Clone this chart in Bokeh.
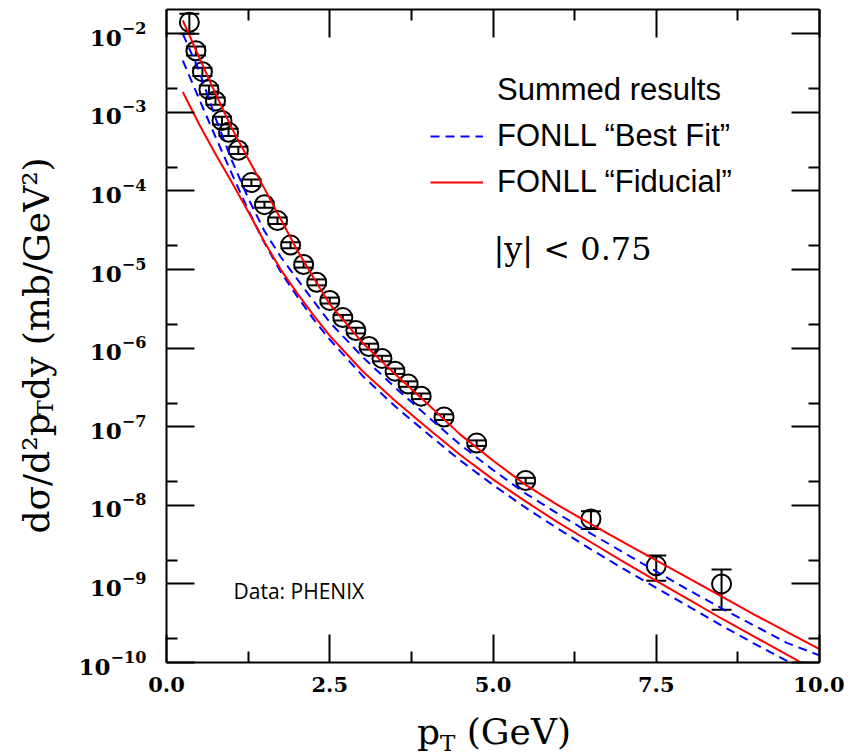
import numpy as np
from bokeh.plotting import figure
from bokeh.layouts import row, column
from bokeh.models import (Range1d, FixedTicker, LogAxis, LinearAxis, LogTickFormatter,
                          PrintfTickFormatter, CustomJSTickFormatter, Whisker,
                          ColumnDataSource, Label, Legend, LegendItem)
from bokeh.embed import file_html
from bokeh.resources import INLINE

# ---- data ----
pt = [0.35, 0.45, 0.55, 0.65, 0.75, 0.85, 0.95, 1.1, 1.3, 1.5, 1.7, 1.9, 2.1, 2.3,
      2.5, 2.7, 2.9, 3.1, 3.3, 3.5, 3.7, 3.9, 4.25, 4.75, 5.5, 6.5, 7.5, 8.5]
dsig = [1.40e-2, 6.1e-3, 3.3e-3, 1.95e-3, 1.40e-3, 7.9e-4, 5.6e-4, 3.3e-4, 1.28e-4,
        6.7e-5, 4.2e-5, 2.05e-5, 1.16e-5, 6.9e-6, 4.05e-6, 2.45e-6, 1.68e-6, 1.05e-6,
        7.4e-7, 5.1e-7, 3.5e-7, 2.45e-7, 1.33e-7, 6.2e-8, 2.07e-8, 6.7e-9, 1.7e-9, 1.0e-9]
dsig_err = [0.40e-2, 0.8e-3, 0.4e-3, 0.25e-3, 0.15e-3, 0.9e-4, 0.6e-4, 0.35e-4, 0.12e-4,
            0.6e-5, 0.4e-5, 0.18e-5, 0.10e-5, 0.6e-6, 0.35e-6, 0.2e-6, 0.14e-6, 0.09e-6,
            0.6e-7, 0.4e-7, 0.28e-7, 0.2e-7, 0.11e-7, 0.5e-8, 0.17e-8, 1.7e-9, 0.6e-9, 0.53e-9]

curve_pt = [0.25, 0.5, 0.75, 1.0, 1.25, 1.5, 1.75, 2.0, 2.25, 2.5, 3.0, 3.5, 4.0, 4.5,
            5.0, 5.5, 6.0, 6.5, 7.0, 7.5, 8.0, 8.5, 9.0, 9.5, 10.0]
# log10 of the cross section
fiducial_hi_log10 = [-1.83, -2.30, -2.76, -3.20, -3.59, -3.97, -4.36, -4.75, -5.10, -5.44,
                     -5.93, -6.33, -6.71, -7.10, -7.43, -7.74, -8.00, -8.24, -8.47, -8.70,
                     -8.93, -9.16, -9.39, -9.61, -9.83]
fiducial_lo_log10 = [-2.74, -3.15, -3.53, -3.89, -4.26, -4.65, -5.00, -5.30, -5.58, -5.84,
                     -6.29, -6.67, -7.02, -7.36, -7.67, -7.95, -8.22, -8.47, -8.72, -8.96,
                     -9.20, -9.44, -9.67, -9.90, -10.13]
bestfit_hi_log10 = [-2.00, -2.47, -3.07, -3.61, -4.09, -4.51, -4.84, -5.12, -5.40, -5.67,
                    -6.11, -6.50, -6.87, -7.23, -7.55, -7.85, -8.11, -8.36, -8.60, -8.84,
                    -9.08, -9.31, -9.53, -9.75, -9.91]
bestfit_lo_log10 = [-2.34, -2.83, -3.31, -3.78, -4.24, -4.66, -5.03, -5.34, -5.63, -5.89,
                    -6.35, -6.74, -7.09, -7.43, -7.74, -8.03, -8.30, -8.56, -8.81, -9.05,
                    -9.29, -9.53, -9.76, -9.98, -10.20]

x_major = [0.0, 2.5, 5.0, 7.5, 10.0]
x_minor = [1.25, 3.75, 6.25, 8.75]
y_major = [1e-10, 1e-9, 1e-8, 1e-7, 1e-6, 1e-5, 1e-4, 1e-3, 1e-2]
y_minor = [2e-10, 2e-9, 2e-8, 2e-7, 2e-6, 2e-5, 2e-4, 2e-3]

legend_labels = ["Summed results", "FONLL \u201cBest Fit\u201d", "FONLL \u201cFiducial\u201d"]


def lab(text, x, y, size, font="DejaVu Serif", angle=0.0, align="left",
        baseline="alphabetic"):
    return Label(x=x, y=y, x_units="screen", y_units="screen", text=text,
                 text_font=font, text_font_size=f"{size}px", angle=angle,
                 text_align=align, text_baseline=baseline, text_color="black")


def text_panel(w, h):
    f = figure(width=w, height=h, x_range=Range1d(0, 1), y_range=Range1d(0, 1),
               x_axis_type=None, y_axis_type=None, output_backend="svg",
               toolbar_location=None, min_border=0, min_border_left=0,
               min_border_right=0, min_border_top=0, min_border_bottom=0,
               background_fill_color="white", border_fill_color="white")
    f.outline_line_color = None
    f.grid.visible = False
    return f


# ---- main figure ----
LEFT_W = 60
p = figure(frame_width=653, frame_height=653,
           x_range=Range1d(0, 10), y_range=Range1d(1e-10, 2.04e-2),
           y_axis_type="log", output_backend="svg", toolbar_location=None,
           min_border_left=166 - LEFT_W, min_border_right=25, min_border_top=9,
           min_border_bottom=40, background_fill_color="white",
           border_fill_color="white")
p.outline_line_color = None
p.grid.visible = False

bottom = p.below[0]
left = p.left[0]
xt = FixedTicker(ticks=x_major, minor_ticks=x_minor)
yt = FixedTicker(ticks=y_major, minor_ticks=y_minor)
bottom.ticker = xt
bottom.formatter = PrintfTickFormatter(format="%.1f")
left.ticker = yt
left.formatter = LogTickFormatter()

blank = CustomJSTickFormatter(code="return ''")
top = LinearAxis(ticker=xt, formatter=blank)
right = LogAxis(ticker=yt, formatter=blank)
p.add_layout(top, "above")
p.add_layout(right, "right")

for ax in [bottom, left, top, right]:
    ax.axis_line_width = 2
    ax.axis_line_color = "black"
    ax.major_tick_in = 28
    ax.major_tick_out = 0
    ax.minor_tick_in = 11
    ax.minor_tick_out = 0
    ax.major_tick_line_width = 2
    ax.minor_tick_line_width = 2
    ax.major_tick_line_color = "black"
    ax.minor_tick_line_color = "black"
    ax.major_label_text_color = "black"
    ax.major_label_text_font = "DejaVu Serif"
    ax.major_label_text_font_style = "bold"
for ax in [top, right]:
    ax.major_label_standoff = 0
bottom.major_label_text_font_size = "21px"
left.major_label_text_font_size = "23px"
bottom.major_label_standoff = 14
left.major_label_standoff = 20

p.add_layout(lab("|y| < 0.75", 406, 414, 32, align="center", baseline="middle"))
p.add_layout(lab("Data: PHENIX", 67, 72, 21, font="Open Sans", baseline="middle"))

# ---- data ----
lower = [v - e for v, e in zip(dsig, dsig_err)]
upper = [v + e for v, e in zip(dsig, dsig_err)]
src = ColumnDataSource(dict(x=pt, y=dsig, lo=lower, hi=upper))
wh = Whisker(base="x", upper="hi", lower="lo", source=src, dimension="height",
             line_color="black", line_width=2)
wh.upper_head.size = 20
wh.lower_head.size = 20
wh.upper_head.line_width = 2
wh.lower_head.line_width = 2
p.add_layout(wh)
p.scatter("x", "y", source=src, marker="circle", size=19, fill_color=None,
          line_color="black", line_width=2)

cx = np.array(curve_pt)
blue = []
for arr in [bestfit_hi_log10, bestfit_lo_log10]:
    blue.append(p.line(cx, 10.0 ** np.array(arr), line_color="#0000ff", line_width=2,
                       line_dash="9 6"))
red = []
for arr in [fiducial_hi_log10, fiducial_lo_log10]:
    red.append(p.line(cx, 10.0 ** np.array(arr), line_color="#ff0000", line_width=2))
# invisible renderer that only carries the legend's heading text
r_sum = p.line(cx, 10.0 ** np.array(fiducial_hi_log10), line_alpha=0)

legend = Legend(items=[LegendItem(label=legend_labels[0], renderers=[r_sum]),
                       LegendItem(label=legend_labels[1], renderers=[blue[0]]),
                       LegendItem(label=legend_labels[2], renderers=[red[0]])],
                location=(264, 462), orientation="vertical",
                border_line_color=None, background_fill_alpha=0,
                label_text_font="Liberation Sans", label_text_font_size="31px",
                label_text_color="black",
                glyph_width=53, glyph_height=36, label_height=36, spacing=10,
                padding=0, margin=0, label_standoff=14)
p.add_layout(legend)

# ---- axis titles in their own small text panels ----
MAIN_H = 9 + 653 + 40
fy = text_panel(LEFT_W, MAIN_H)
a = np.pi / 2
# dσ/d²p_T dy (mb/GeV²), reading bottom to top
y0 = MAIN_H - 529 - 44
fy.add_layout(lab("d\u03c3/d\u00b2p", 36, y0, 36, angle=a))
fy.add_layout(lab("T", 45, y0 + 118.6, 22, angle=a))
fy.add_layout(lab("dy (mb/GeV\u00b2)", 36, y0 + 133.4, 36, angle=a))

BOT_H = 756 - MAIN_H
fx = text_panel(166 + 653 + 25, BOT_H)
# p_T (GeV)
fx.add_layout(lab("p", 416.5, 25, 36))
fx.add_layout(lab("T", 439.5, 14, 23))
fx.add_layout(lab("(GeV)", 466.3, 25, 36))

layout = column(row(fy, p, spacing=0), fx, spacing=0)

open("out.html", "w").write(file_html(layout, INLINE))
